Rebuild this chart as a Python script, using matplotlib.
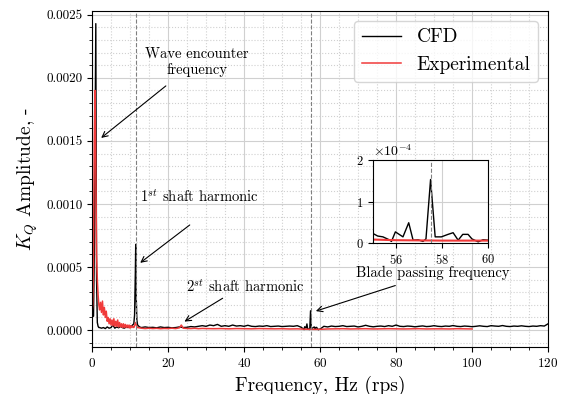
import numpy as np
import matplotlib
matplotlib.use("Agg")
import matplotlib.pyplot as plt
from matplotlib.ticker import AutoMinorLocator, FormatStrFormatter

plt.rcParams['font.family'] = 'serif'
plt.rcParams['font.serif'] = ['cmr10']
plt.rcParams['mathtext.fontset'] = 'cm'
plt.rcParams['axes.formatter.use_mathtext'] = True
plt.rcParams['axes.unicode_minus'] = False

# CFD spectrum (frequency in Hz, amplitude in units of 1e-5)
cfd_freq = [0.0, 0.2, 0.4, 0.6, 0.8, 1.0, 1.2, 1.4, 1.6, 1.8, 2.0,
            2.5, 3.0, 3.5, 4.0, 4.5, 5.0, 5.5, 6.0, 6.5, 7.0, 7.5, 8.0, 8.5, 9.0, 9.5, 10.0, 10.5,
            11.0, 11.2, 11.4, 11.5, 11.6, 11.8, 12.0, 12.5,
            13, 14, 15, 16, 17, 18, 19, 20, 21, 22, 23, 24, 25, 26, 27, 28, 29, 30,
            31, 32, 33, 34, 35, 36, 37, 38, 39, 40, 41, 42, 43, 44, 45, 46, 47, 48, 49, 50,
            51, 52, 53, 54,
            55.0, 55.2, 55.43, 55.7, 55.8, 55.97, 56.3, 56.55, 56.74, 56.96, 57.17, 57.3,
            57.5, 57.7, 57.97, 58.26, 58.48, 58.7, 58.9, 59.13, 59.3, 59.57, 59.78, 60.0,
            61, 62, 63, 64, 65, 66, 67, 68, 69, 70, 71, 72, 73, 74, 75, 76, 77, 78, 79, 80,
            81, 82, 83, 84, 85, 86, 87, 88, 89, 90, 91, 92, 93, 94, 95, 96, 97, 98, 99, 100,
            101, 102, 103, 104, 105, 106, 107, 108, 109, 110, 111, 112, 113, 114, 115, 116, 117, 118, 119, 120]
cfd_amp = [10, 12, 11, 60, 150, 243, 40, 6, 3, 2, 2,
           1.5, 2, 1.2, 2.5, 1.5, 2, 4, 1.5, 2.5, 1.8, 3, 2, 1.5, 2.5, 2, 3, 3.5,
           5, 12, 45, 68, 30, 8, 4, 2.5,
           2, 2.5, 2, 2.2, 1.8, 2.5, 2, 2.2, 1.8, 2, 2.5, 2, 2.2, 2.8, 2.5, 3, 3.5, 3,
           4, 3.5, 4.5, 3, 3.5, 3, 4, 3.2, 3.5, 3, 3.8, 3, 2.8, 3.2, 3, 3.5, 2.8, 3, 3.2, 2.8,
           3, 3.2, 3, 3.5,
           2.3, 1.7, 1.5, 0.8, 0.4, 2.7, 1.5, 4.9, 0.7, 0.8, 0.4, 1.0,
           15.3, 1.5, 1.5, 2.1, 2.5, 0.7, 2.1, 2.1, 1.0, 0.3, 0.8, 0.7,
           3, 2.5, 3.2, 2.8, 3, 3.5, 2.8, 3, 3.2, 2.5, 3, 3.8, 3, 2.6, 3, 3.2, 2.8, 3.5, 3, 4,
           3, 2.8, 3.2, 3, 2.6, 3, 3.3, 2.8, 3, 3.5, 3, 2.8, 3.2, 3, 3.6, 3, 2.8, 3.2, 3, 2.7,
           3, 3.4, 3, 2.8, 3.5, 3.2, 3, 3.6, 3, 2.8, 3.2, 3, 3.4, 3, 2.8, 3.2, 3, 3.5, 3.2, 5]

# Experimental spectrum (frequency in Hz, amplitude in units of 1e-5)
exp_freq = [0.0, 0.2, 0.4, 0.6, 0.8, 1.0, 1.2, 1.4, 1.6, 1.8, 2.0,
            2.25, 2.5, 2.75, 3.0, 3.25, 3.5, 3.75, 4.0, 4.25, 4.5, 4.75, 5.0, 5.25, 5.5, 5.75,
            6.0, 6.25, 6.5, 6.75, 7.0, 7.25, 7.5, 7.75, 8.0, 8.25, 8.5, 8.75, 9.0, 9.25, 9.5,
            9.75, 10.0, 10.25, 10.5, 10.75, 11.0, 11.25, 11.5, 11.75, 12.0,
            13, 14, 15, 16, 17, 18, 19, 20, 21, 22, 23, 23.5, 24, 25, 26, 27, 28, 29, 30,
            32, 34, 36, 38, 40, 42, 44, 46, 48, 50, 52, 54, 56, 58, 60, 62, 64, 66, 68, 70,
            72, 74, 76, 78, 80, 82, 84, 86, 88, 90, 92, 94, 96, 98, 100]
exp_amp = [14, 20, 60, 150, 190, 130, 60, 40, 28, 20, 16,
           22, 14, 23, 12, 18, 10, 15, 7, 10, 5, 9, 4, 8, 3.5, 9,
           3, 7, 3, 8, 2.5, 6, 2.5, 5, 2, 5, 2, 4.5, 2, 4, 2,
           4, 1.5, 3.5, 2, 3, 2, 4, 6, 3, 2,
           1.5, 1.2, 1.5, 1.2, 1.4, 1.1, 1.3, 1.2, 1.5, 1.2, 1.8, 4, 1.5, 1.3, 1.2, 1.4, 1.1, 1.3, 1.2,
           1.1, 1.2, 1.0, 1.2, 1.1, 1.0, 1.2, 1.1, 1.0, 1.1, 0.9, 1.0, 0.7, 0.6, 0.6, 0.9, 1.0, 1.1, 0.9, 1.0,
           1.1, 0.9, 1.0, 1.1, 1.0, 0.9, 1.0, 1.1, 0.9, 1.0, 1.0, 0.9, 1.1, 1.0, 0.9]

harmonics = [11.5, 57.5]

cfd_y = np.array(cfd_amp) * 1e-5
exp_y = np.array(exp_amp) * 1e-5

fig = plt.figure(figsize=(5.61, 3.94), dpi=100)
ax = fig.add_axes([0.164, 0.119, 0.813, 0.853])

ax.plot(cfd_freq, cfd_y, color='black', lw=1.0, label='CFD')
ax.plot(exp_freq, exp_y, color='#f03a3a', lw=1.1, label='Experimental')
for h in harmonics:
    ax.axvline(h, color='gray', ls='--', lw=0.8)

ax.set_xlim(0, 120)
ax.set_ylim(-0.000135, 0.00253)
ax.set_xticks([0, 20, 40, 60, 80, 100, 120])
ax.set_yticks([0.0, 0.0005, 0.0010, 0.0015, 0.0020, 0.0025])
ax.yaxis.set_major_formatter(FormatStrFormatter('%.4f'))
ax.xaxis.set_minor_locator(AutoMinorLocator())
ax.yaxis.set_minor_locator(AutoMinorLocator())
ax.grid(which='major', color='#d0d0d0', lw=0.8)
ax.grid(which='minor', color='#d0d0d0', ls=':', lw=0.8)
ax.set_axisbelow(True)
ax.tick_params(labelsize=9.5)
ax.set_xlabel('Frequency, Hz (rps)', fontsize=14)
ax.set_ylabel('$K_Q$ Amplitude, -', fontsize=14)

ax.legend(loc='upper right', fontsize=14, framealpha=0.8, edgecolor='#cccccc')

arrow = dict(arrowstyle='->', color='black', lw=0.8)
ax.text(27.6, 0.002125, 'Wave encounter\nfrequency', ha='center', va='center', fontsize=10.5)
ax.annotate('', xy=(1.84, 0.00151), xytext=(20.0, 0.00195), arrowprops=arrow)
ax.text(28.2, 0.00106, '1$^{st}$ shaft harmonic', ha='center', va='center', fontsize=10.5)
ax.annotate('', xy=(12.1, 0.00052), xytext=(26.3, 0.000847), arrowprops=arrow)
ax.text(40.3, 0.000343, '2$^{st}$ shaft harmonic', ha='center', va='center', fontsize=10.5)
ax.annotate('', xy=(23.7, 0.000056), xytext=(35.0, 0.000264), arrowprops=arrow)
ax.text(89.7, 0.000455, 'Blade passing frequency', ha='center', va='center', fontsize=10.5)
ax.annotate('', xy=(58.2, 0.000144), xytext=(80.5, 0.00036), arrowprops=arrow)

# inset zoom on the blade passing frequency
axin = fig.add_axes([0.665, 0.383, 0.205, 0.211])
axin.plot(cfd_freq, cfd_y, color='black', lw=1.0)
axin.plot(exp_freq, exp_y, color='#f03a3a', lw=1.5)
axin.axvline(57.5, color='gray', ls='--', lw=0.8)
axin.set_xlim(55, 60)
axin.set_ylim(0, 0.0002)
axin.set_xticks([56, 58, 60])
axin.set_yticks([0, 0.0001, 0.0002])
axin.ticklabel_format(axis='y', style='sci', scilimits=(0, 0))
axin.yaxis.get_offset_text().set_fontsize(10)
axin.tick_params(labelsize=9)
axin.grid(color='#d0d0d0', lw=0.8)

fig.savefig('out.png', dpi=100)
